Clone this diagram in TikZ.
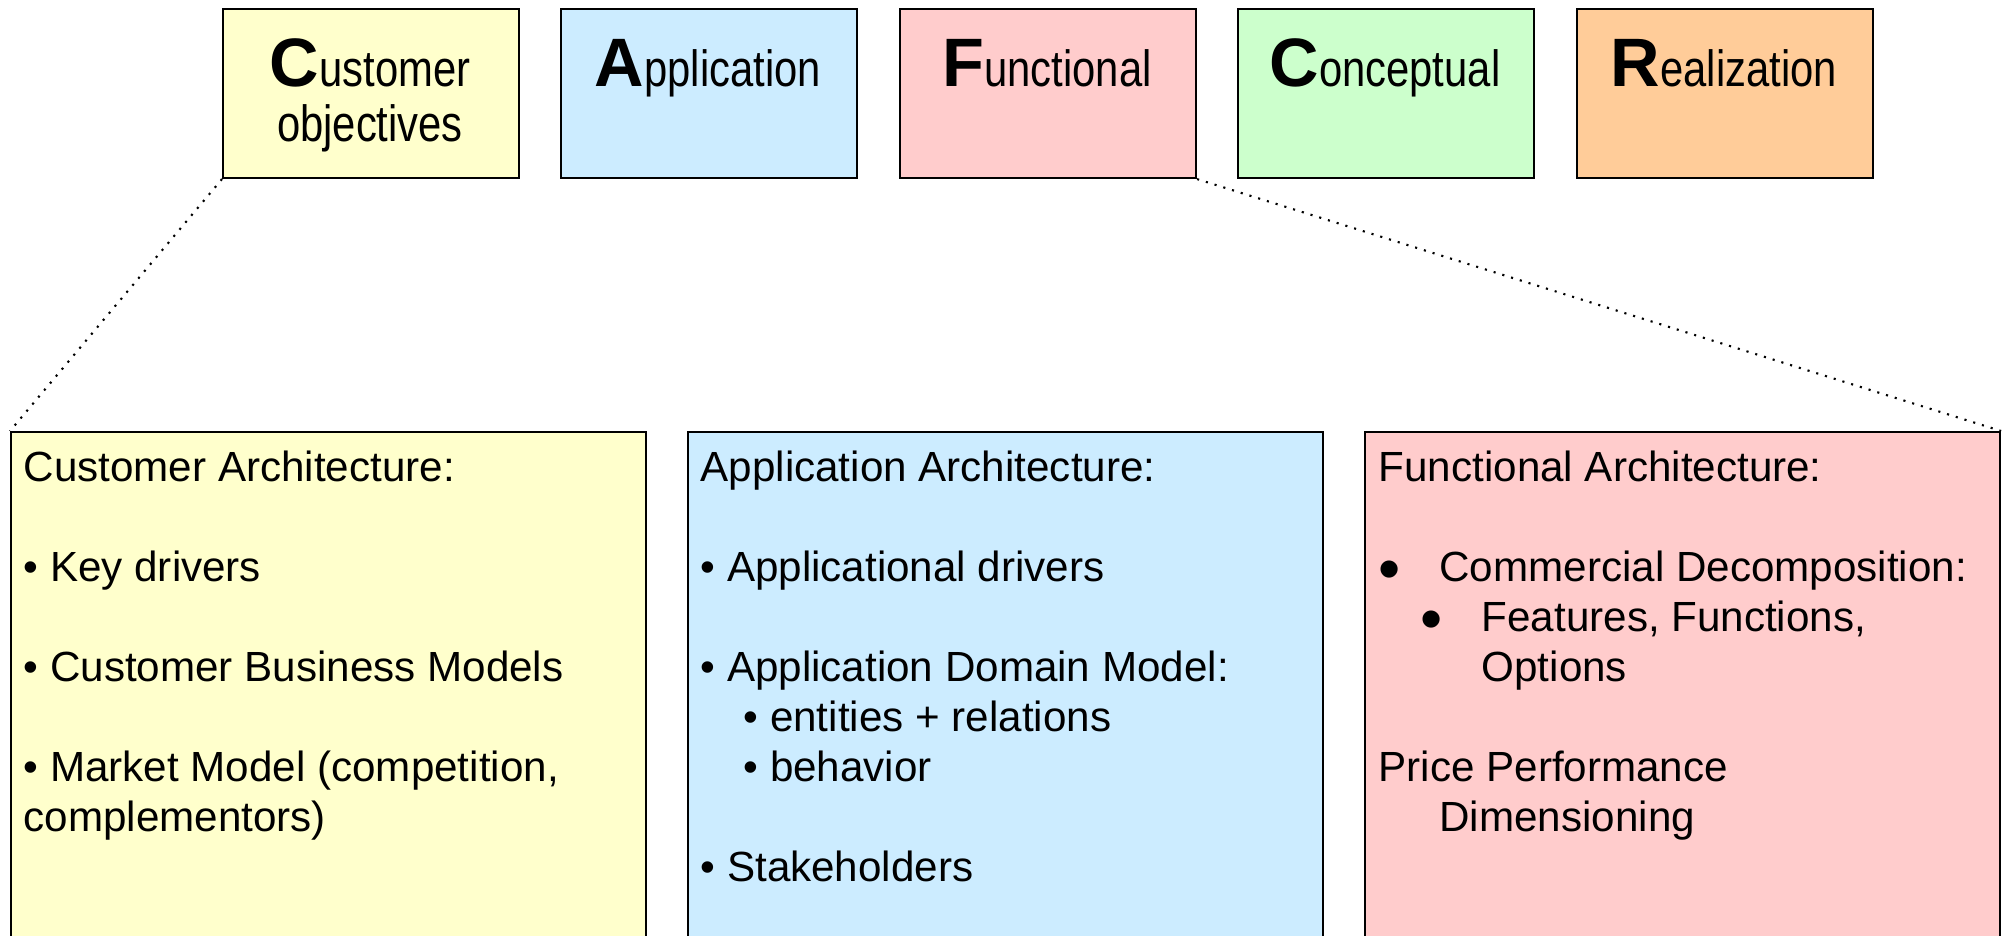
\documentclass[tikz,border=0pt]{standalone}
\usepackage{fontspec}
\setmainfont{Liberation Sans}
\newfontfamily\narrowfont[FakeStretch=0.82]{Liberation Sans}
\definecolor{gelb}{HTML}{FFFFCC}
\definecolor{blau}{HTML}{CCECFF}
\definecolor{rosa}{HTML}{FFCCCC}
\definecolor{gruen}{HTML}{CCFFCC}
\definecolor{orange}{HTML}{FFCC99}
\newcommand\gross[1]{{\rule{0pt}{16pt}\rmfamily\bfseries\fontsize{19.5}{15}\selectfont #1}}
\newcommand\punkt{\makebox[17.3pt][l]{\raisebox{-2.5pt}{\fontsize{18}{14}\selectfont •}}}
\begin{document}
\begin{tikzpicture}[scale=1]
\tikzset{kasten/.style={draw,line width=0.6pt,inner sep=0,anchor=north west,minimum width=2.96cm,minimum height=1.69cm}}
\tikzset{blatt/.style={draw,line width=0.6pt,inner sep=0,anchor=north west,minimum width=6.35cm,minimum height=5.4cm}}
\tikzset{titel/.style={anchor=north,align=center,inner sep=0,font=\narrowfont\fontsize{14.5}{15.5}\selectfont}}
\tikzset{liste/.style={anchor=north west,align=left,inner sep=0,font=\fontsize{12}{14.23}\selectfont}}
\useasboundingbox (0,0) rectangle (20.02,-9.36);
\clip (0,0) rectangle (20.02,-9.36);
% top row
\node [kasten,fill=gelb] (c) at (2.22,-0.08) {};
\node [kasten,fill=blau] (a) at (5.60,-0.08) {};
\node [kasten,fill=rosa] (f) at (8.99,-0.08) {};
\node [kasten,fill=gruen] (k) at (12.37,-0.08) {};
\node [kasten,fill=orange] (r) at (15.76,-0.08) {};
\node [titel] (ct) at (3.70,-0.30) {\gross{C}ustomer\\objectives};
\node [titel] (at) at (7.08,-0.30) {\gross{A}pplication};
\node [titel] (ft) at (10.47,-0.30) {\gross{F}unctional};
\node [titel] (kt) at (13.85,-0.30) {\gross{C}onceptual};
\node [titel] (rt) at (17.24,-0.30) {\gross{R}ealization};
% bottom row
\node [blatt,fill=gelb] (cb) at (0.10,-4.31) {};
\node [blatt,fill=blau] (ab) at (6.87,-4.31) {};
\node [blatt,fill=rosa] (fb) at (13.64,-4.31) {};
\node [liste] (cl) at (0.23,-4.459) {\strut Customer Architecture:\\[14.23pt]
  • Key drivers\\[14.23pt]
  • Customer Business Models\\[14.23pt]
  • Market Model (competition,\\complementors)};
\node [liste] (al) at (7.00,-4.459) {\strut Application Architecture:\\[14.23pt]
  • Applicational drivers\\[14.23pt]
  • Application Domain Model:\\
  \hspace*{12.2pt}• entities + relations\\
  \hspace*{12.2pt}• behavior\\[14.23pt]
  • Stakeholders};
\node [liste] (fl) at (13.78,-4.459) {\strut Functional Architecture:\\[14.23pt]
  \punkt Commercial Decomposition:\\
  \hspace*{12pt}\punkt Features, Functions,\\
  \hspace*{29.3pt}Options\\[14.23pt]
  Price Performance\\
  \hspace*{17.3pt}Dimensioning};
% zoom lines
\draw[dotted,line width=0.6pt] (c.south west) to (cb.north west);
\draw[dotted,line width=0.6pt] (f.south east) to (fb.north east);
\end{tikzpicture}
\end{document}
